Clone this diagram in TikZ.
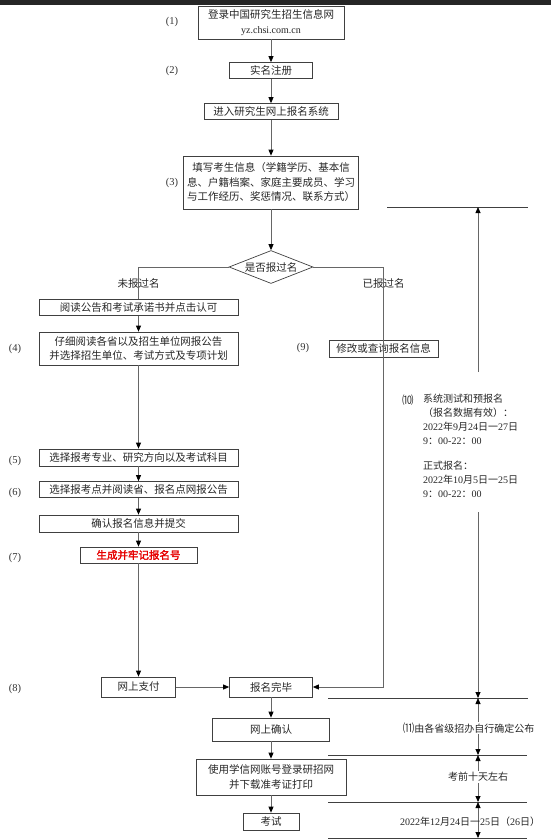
\documentclass[tikz,border=0pt]{standalone}
\usepackage{fontspec}
\setmainfont{Noto Sans CJK SC}
\newfontfamily\serif{Liberation Serif}
\newfontfamily\cjkbold[FakeBold=2]{Noto Sans CJK SC}
\usetikzlibrary{shapes.geometric,arrows.meta}
\definecolor{redtxt}{rgb}{0.9,0,0}
\newcommand\dg[1]{{\serif #1}}
\begin{document}
\begin{tikzpicture}[x=1pt,y=-1pt,
  box/.style={draw=black!75, line width=0.7pt, inner sep=1pt, align=center,
    font=\fontsize{10.5}{14.5}\selectfont, text=black!85},
  conn/.style={draw=black!60, line width=0.8pt},
  arr/.style={conn, -{Triangle[length=6pt,width=5pt,color=black]}},
  darr/.style={conn, {Triangle[length=6pt,width=5pt,color=black]}-{Triangle[length=6pt,width=5pt,color=black]}},
  num/.style={font=\serif\fontsize{10.5}{12}\selectfont, text=black!80},
  lbl/.style={font=\fontsize{10.5}{12}\selectfont, text=black!85},
  tline/.style={draw=black!75, line width=0.8pt},
  ttext/.style={font=\fontsize{10}{14}\selectfont, text=black!85}]
\useasboundingbox (0,0) rectangle (551,839);
\fill[black!85] (0,0) rectangle (551,4.5);

% main column
\node[box, minimum width=146pt, minimum height=33pt] (b1) at (271,22.5)
  {登录中国研究生招生信息网\\{\serif\fontsize{10}{14}\selectfont yz.chsi.com.cn}};
\node[box, minimum width=83pt, minimum height=16pt] (b2) at (271,70.5) {实名注册};
\node[box, minimum width=134pt, minimum height=16pt] (b3) at (271,111.5) {进入研究生网上报名系统};
\node[box, minimum width=175pt, minimum height=53pt] (b4) at (271,182.5)
  {填写考生信息（学籍学历、基本信\\息、户籍档案、家庭主要成员、学习\\与工作经历、奖惩情况、联系方式）};
\node[box, shape=diamond, aspect=2.5, inner sep=0pt, minimum width=84pt, minimum height=33pt] (dia) at (271,267) {是否报过名};

% left column
\node[box, minimum width=199pt, minimum height=16pt] (bA) at (138.5,307.5) {阅读公告和考试承诺书并点击认可};
\node[box, minimum width=199pt, minimum height=33pt] (bB) at (138.5,348.5)
  {仔细阅读各省以及招生单位网报公告\\并选择招生单位、考试方式及专项计划};
\node[box, minimum width=199pt, minimum height=17pt] (bC) at (138.5,457.5) {选择报考专业、研究方向以及考试科目};
\node[box, minimum width=199pt, minimum height=16pt] (bD) at (138.5,489.5) {选择报考点并阅读省、报名点网报公告};
\node[box, minimum width=199pt, minimum height=17pt] (bE) at (138.5,523.5) {确认报名信息并提交};
\node[box, minimum width=117pt, minimum height=16pt] (bF) at (138.5,555) {{\cjkbold\color{redtxt}生成并牢记报名号}};
\node[box, minimum width=74pt, minimum height=20pt] (pay) at (138.5,687) {网上支付};

% lower main column
\node[box, minimum width=83pt, minimum height=20pt] (done) at (271,687) {报名完毕};
\node[box, minimum width=117pt, minimum height=23pt] (conf) at (271,729.5) {网上确认};
\node[box, minimum width=150pt, minimum height=36pt] (prt) at (271,777) {使用学信网账号登录研招网\\并下载准考证打印};
\node[box, minimum width=56pt, minimum height=17pt] (exam) at (271,821.5) {考试};

% right branch box
\node[box, minimum width=109pt, minimum height=17pt] (b9) at (383.5,348.5) {修改或查询报名信息};

% step numbers
\node[num] (n1) at (172,22) {(1)};
\node[num] (n2) at (172,71) {(2)};
\node[num] (n3) at (172,183) {(3)};
\node[num] (n4) at (15,349) {(4)};
\node[num] (n5) at (15,461) {(5)};
\node[num] (n6) at (15,493) {(6)};
\node[num] (n7) at (15,558) {(7)};
\node[num] (n8) at (15,689) {(8)};
\node[num] (n9) at (303,348) {(9)};

% connectors main
\draw[arr] (b1) -- (b2);
\draw[arr] (b2) -- (b3);
\draw[arr] (b3) -- (b4);
\draw[arr] (b4) -- (dia);
\draw[conn] (dia.west) -| (bA.north);
\draw[arr] (dia.east) -| (b9.center) |- (done.east);
\draw[arr] (bA) -- (bB);
\draw[arr] (bB) -- (bC);
\draw[arr] (bC) -- (bD);
\draw[arr] (bD) -- (bE);
\draw[arr] (bE) -- (bF);
\draw[arr] (bF) -- (pay);
\draw[arr] (pay) -- (done);
\draw[arr] (done) -- (conf);
\draw[arr] (conf) -- (prt);
\draw[arr] (prt) -- (exam);

\node[lbl] (ny) at (138.5,283) {未报过名};
\node[lbl] (yy) at (383.5,283) {已报过名};

% timeline
\coordinate (t1l) at (387,207); \coordinate (t1r) at (528,207);
\coordinate (t2l) at (328,698); \coordinate (t2r) at (528,698);
\coordinate (t3l) at (328,755); \coordinate (t3r) at (527,755);
\coordinate (t4l) at (328,802); \coordinate (t4r) at (527,802);
\coordinate (t5l) at (328,838); \coordinate (t5r) at (527,838);
\draw[tline] (t1l) -- (t1r);
\draw[tline] (t2l) -- (t2r);
\draw[tline] (t3l) -- (t3r);
\draw[tline] (t4l) -- (t4r);
\draw[tline] (t5l) -- (t5r);
\coordinate (v1) at (478,372);
\coordinate (v2) at (478,512);
\draw[arr] (v1) -- (v1 |- t1l);
\draw[arr] (v2) -- (v2 |- t2l);
\draw[darr] (v2 |- t2l) -- (v2 |- t3l);
\draw[darr] (v2 |- t3l) -- (v2 |- t4l);
\draw[darr] (v2 |- t4l) -- (v2 |- t5l);

\node[ttext, anchor=west, inner sep=0pt, font=\fontsize{11.5}{14}\selectfont] (p10) at (402,400) {⑽};
\node[ttext, anchor=north west, inner sep=0pt, align=left] (t10) at (423,393.5)
  {系统测试和预报名\\（报名数据有效）：\\\dg{2022}年\dg{9}月\dg{24}日一\dg{27}日\\\dg{9}：\dg{00-22}：\dg{00}\\[11pt]
   正式报名：\\\dg{2022}年\dg{10}月\dg{5}日一\dg{25}日\\\dg{9}：\dg{00-22}：\dg{00}};
\node[ttext, fill=white, inner sep=1pt] (t11) at (468.5,728) {{\fontsize{11.5}{14}\selectfont ⑾}由各省级招办自行确定公布};
\node[ttext, fill=white, inner sep=1pt] (t12) at (478,777) {考前十天左右};
\node[ttext, inner sep=1pt] (t13) at (470,822) {\dg{2022}年\dg{12}月\dg{24}日一\dg{25}日（\dg{26}日）};
\end{tikzpicture}
\end{document}
